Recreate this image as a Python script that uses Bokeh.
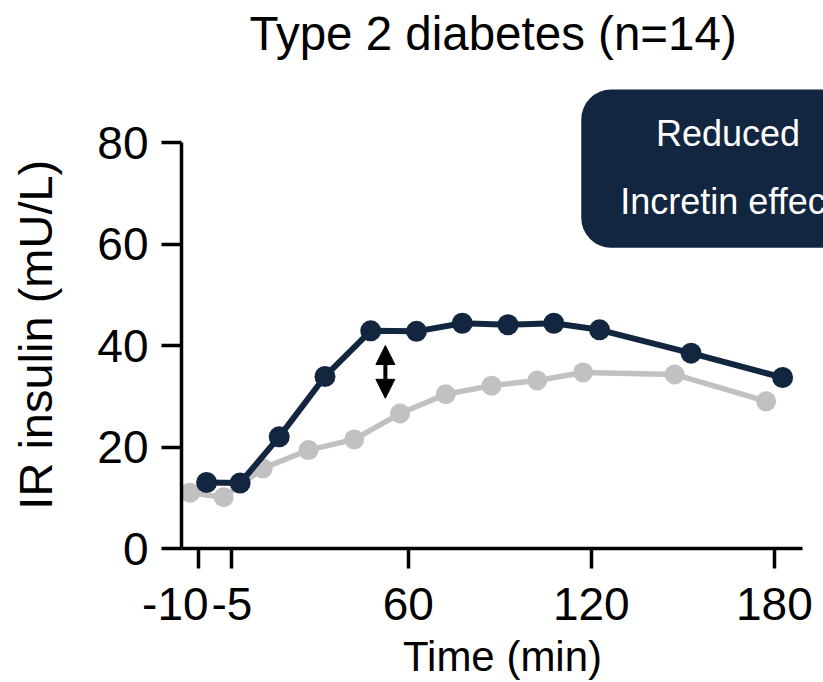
from bokeh.plotting import figure
from bokeh.models import (Range1d, FixedTicker, Arrow, NormalHead, Label,
                          BoxAnnotation, ColumnDataSource)
from bokeh.transform import dodge
from bokeh.embed import file_html
from bokeh.resources import INLINE

# Sampling times (min) and mean immunoreactive insulin (mU/L)
time_min = [-10, -5, 15, 30, 45, 60, 75, 90, 105, 120, 150, 180]
insulin_oral = [13.0, 12.9, 22.0, 33.9, 42.9, 42.8, 44.4, 44.1, 44.4, 43.1, 38.5, 33.7]
insulin_iv = [11.0, 10.1, 15.8, 19.4, 21.5, 26.6, 30.4, 32.1, 33.1, 34.7, 34.3, 29.0]

x_tick_times = [-10, -5, 60, 120, 180]
y_ticks = [0, 20, 40, 60, 80]

NAVY = "#12263f"
GRAY = "#c1c1c1"
FONT = "Liberation Sans"

# Pre-dose samples are drawn on a stretched segment to the left of t = 0
PRE_ORIGIN = 2.2    # axis position of the -5 min sample
PRE_STRETCH = 2.2   # axis units per pre-dose minute
DODGE = 2.7         # horizontal offset between the two series (min)


def axis_pos(t):
    return t if t >= 0 else PRE_ORIGIN + (t + 5) * PRE_STRETCH


src = ColumnDataSource(dict(pos=[axis_pos(t) for t in time_min],
                            oral=insulin_oral, iv=insulin_iv))

p = figure(width=823, height=682, output_backend="svg", toolbar_location=None,
           x_range=Range1d(-14.32, 196.1), y_range=Range1d(0, 95.39),
           min_border_left=181, min_border_right=0, min_border_top=62,
           min_border_bottom=133, background_fill_color="white",
           border_fill_color="white", outline_line_color=None)
p.grid.visible = False

# IV glucose (grey) underneath, oral glucose (navy) on top
p.line(x=dodge("pos", -DODGE), y="iv", source=src, line_color=GRAY, line_width=5.5)
p.scatter(x=dodge("pos", -DODGE), y="iv", source=src, size=20,
          fill_color=GRAY, line_color=None)
p.line(x=dodge("pos", DODGE), y="oral", source=src, line_color=NAVY, line_width=6)
p.scatter(x=dodge("pos", DODGE), y="oral", source=src, size=21,
          fill_color=NAVY, line_color=None)

# Axes
for ax in (p.xaxis[0], p.yaxis[0]):
    ax.axis_line_width = 3.5
    ax.axis_line_color = "black"
    ax.major_tick_line_width = 3.5
    ax.major_tick_line_color = "black"
    ax.major_tick_out = 20
    ax.major_tick_in = 0
    ax.minor_tick_line_color = None
    ax.major_label_text_font = FONT
    ax.major_label_text_font_size = "46px"
    ax.major_label_text_color = "black"
    ax.axis_label_text_font = FONT
    ax.axis_label_text_font_style = "normal"
    ax.axis_label_text_color = "black"

xa = p.xaxis[0]
xa.ticker = FixedTicker(ticks=[axis_pos(t) for t in x_tick_times])
labels = {axis_pos(t): str(t) for t in x_tick_times}
# em space after "-10" keeps it clear of the neighbouring "-5"
labels[axis_pos(-10)] = "-10\u2003"
xa.major_label_overrides = labels
xa.bounds = (-14.32, 189.3)
xa.major_label_standoff = 9
xa.axis_label = "Time (min)"
xa.axis_label_text_font_size = "42px"
xa.axis_label_standoff = 0

ya = p.yaxis[0]
ya.ticker = FixedTicker(ticks=y_ticks)
ya.bounds = (0, 80)
ya.major_label_standoff = 13
# trailing space centres the label on the 0-80 span rather than the frame
ya.axis_label = "IR insulin (mU/L)\u2003\u2009"
ya.axis_label_text_font_size = "47px"
ya.axis_label_standoff = 32

# Title
p.title.text = "Type 2 diabetes (n=14)"
p.title.text_font = FONT
p.title.text_font_size = "47.5px"
p.title.text_font_style = "normal"
p.title.text_color = "black"
p.title.align = "left"
p.title.offset = 68
p.title.standoff = 9

# Double-headed arrow marking the gap between the curves
head = dict(size=19, fill_color="black", line_color="black")
p.add_layout(Arrow(x_start=52.5, y_start=29.6, x_end=52.5, y_end=40.0,
                   line_width=4, line_color="black",
                   start=NormalHead(**head), end=NormalHead(**head)))

# Rounded call-out box
p.add_layout(BoxAnnotation(left=116.7, right=260, bottom=59.25, top=90.45,
                           fill_color=NAVY, fill_alpha=1, line_color=None,
                           border_radius=30))
for txt, yy in (("Reduced", 81.7), ("Incretin effect", 68.4)):
    p.add_layout(Label(x=164.8, y=yy, text=txt, text_align="center",
                       text_baseline="middle", text_font=FONT,
                       text_font_size="36px", text_color="white"))

open("out.html", "w").write(file_html(p, INLINE))
